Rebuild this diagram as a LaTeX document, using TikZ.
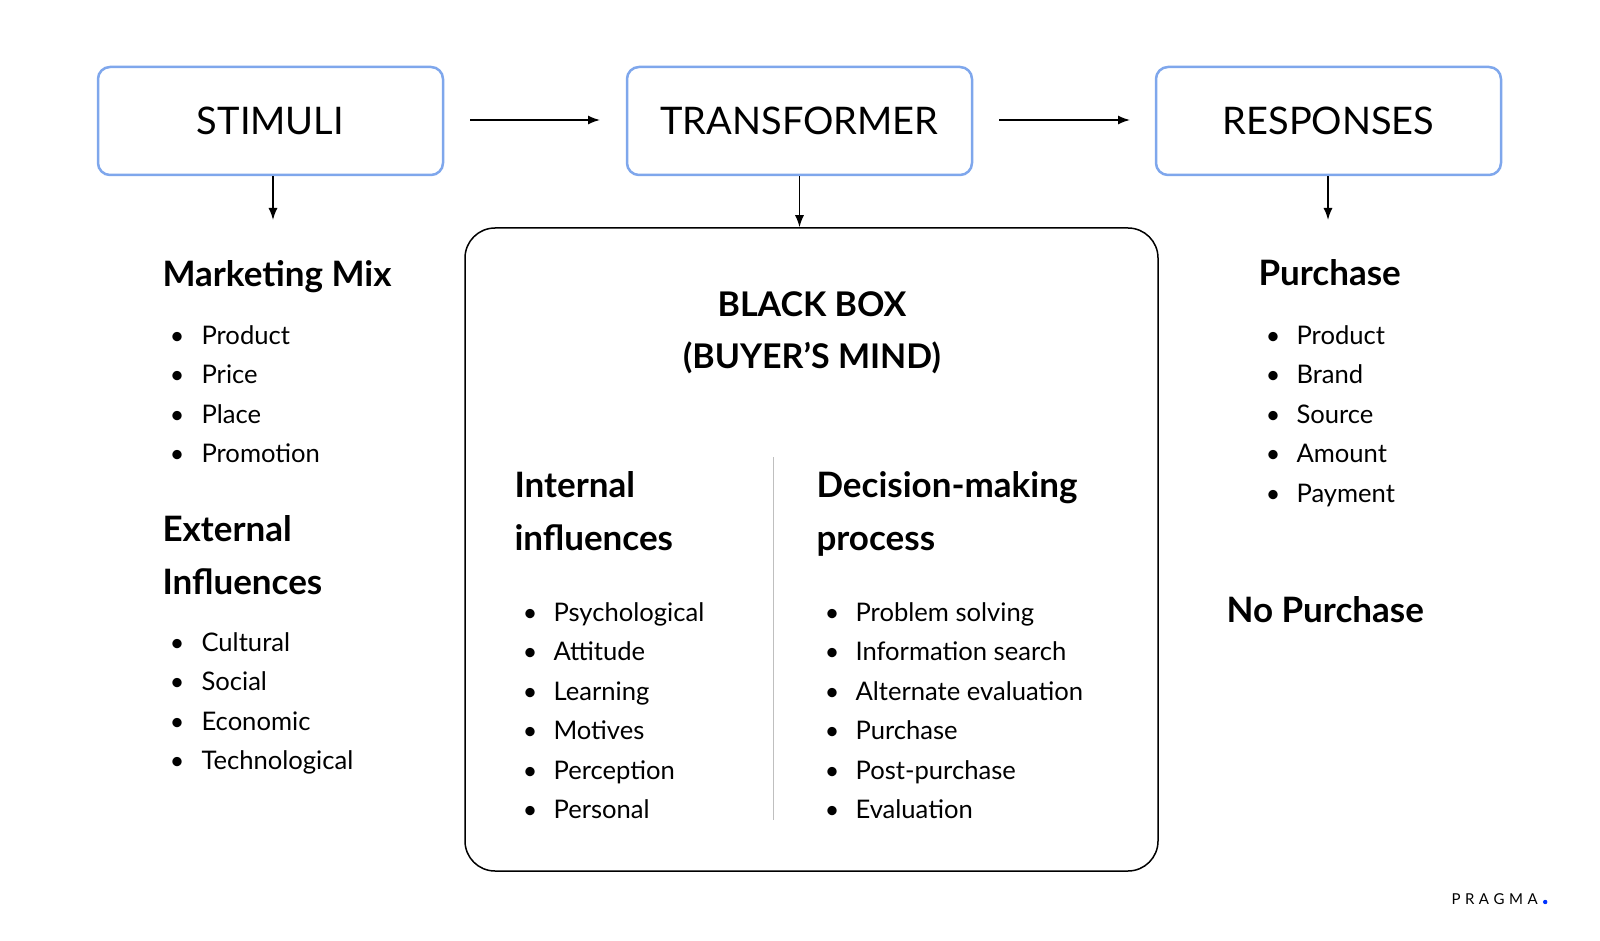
\documentclass[tikz,border=0pt]{standalone}
\usepackage{fontspec}
\setmainfont{Lato}
\usetikzlibrary{arrows.meta}
\begin{document}
\begin{tikzpicture}[x=1pt,y=-1pt,
  top/.style={draw=boxblue,line width=2.5pt,rounded corners=12pt,minimum width=345pt,minimum height=108pt,font=\fontsize{38}{38}\selectfont},
  head/.style={anchor=base west,font=\fontsize{35}{35}\selectfont\bfseries},
  item/.style={anchor=base west,font=\fontsize{25.6}{25.6}\selectfont},
  bul/.style={anchor=base,font=\fontsize{25}{25}\selectfont},
  arr/.style={-{Latex[length=12pt,width=9pt]},line width=1.5pt}]
\definecolor{boxblue}{HTML}{7FA7EC}
\useasboundingbox (0,0) rectangle (1600,941);
\node[top] (s) at (270.5,121) {STIMULI};
\node[top] (t) at (799.5,121) {TRANSFORMER};
\node[top] (r) at (1328.5,121) {RESPONSES};
\coordinate (a1) at (470,120); \coordinate (a2) at (600,120);
\coordinate (b1) at (999,120); \coordinate (b2) at (1130,120);
\draw[arr] (a1) -- (a2);
\draw[arr] (b1) -- (b2);
\node[draw,line width=1.5pt,rounded corners=30pt,minimum width=693pt,minimum height=643pt] (bb) at (811.5,549.5) {};
\coordinate (sd) at (273,220); \coordinate (rd) at (1328,220);
\draw[arr] (s.south -| sd) -- (sd);
\draw[arr] (t.south) -- (bb.north -| t.south);
\draw[arr] (r.south -| rd) -- (rd);
\coordinate (d1) at (773,457); \coordinate (d2) at (773,820);
\draw[gray!50,line width=1pt] (d1) -- (d2);
% left
\node[head] (mm) at (159,287) {Marketing Mix};
\foreach \t [count=\i] in {Product,Price,Place,Promotion}
  {\node[bul] at (177,344+39.5*\i-39.5) {•}; \node[item] at (198,344+39.5*\i-39.5) {\t};}
\node[head] (ex) at (159,541) {External};
\node[head] (in) at (159,594) {Influences};
\foreach \t [count=\i] in {Cultural,Social,Economic,Technological}
  {\node[bul] at (177,651+39.5*\i-39.5) {•}; \node[item] at (198,651+39.5*\i-39.5) {\t};}
% black box
\node[anchor=base,font=\fontsize{34}{34}\selectfont\bfseries] (bt1) at (812,316) {BLACK BOX};
\node[anchor=base,font=\fontsize{34}{34}\selectfont\bfseries] (bt2) at (812,368) {(BUYER’S MIND)};
\node[head] (ii1) at (511,497) {Internal};
\node[head] (ii2) at (511,550) {influences};
\foreach \t [count=\i] in {Psychological,Attitude,Learning,Motives,Perception,Personal}
  {\node[bul] at (530,621+39.5*\i-39.5) {•}; \node[item] at (550,621+39.5*\i-39.5) {\t};}
\node[head] (dm1) at (813,497) {Decision-making};
\node[head] (dm2) at (813,550) {process};
\foreach \t [count=\i] in {Problem solving,Information search,Alternate evaluation,Purchase,Post-purchase,Evaluation}
  {\node[bul] at (832,621+39.5*\i-39.5) {•}; \node[item] at (852,621+39.5*\i-39.5) {\t};}
% right
\node[head] (pu) at (1255,286) {Purchase};
\foreach \t [count=\i] in {Product,Brand,Source,Amount,Payment}
  {\node[bul] at (1273,344+39.5*\i-39.5) {•}; \node[item] at (1293,344+39.5*\i-39.5) {\t};}
\node[head] (np) at (1223,622) {No Purchase};
\node[anchor=base west,font=\fontsize{15}{15}\selectfont] (lg) at (1448,904) {P\hspace{4.5pt}R\hspace{4.5pt}A\hspace{4.5pt}G\hspace{4.5pt}M\hspace{4.5pt}A};
\fill[blue!80!cyan] (lg.base east) ++(4,-2) circle (2.2pt);
\end{tikzpicture}
\end{document}
